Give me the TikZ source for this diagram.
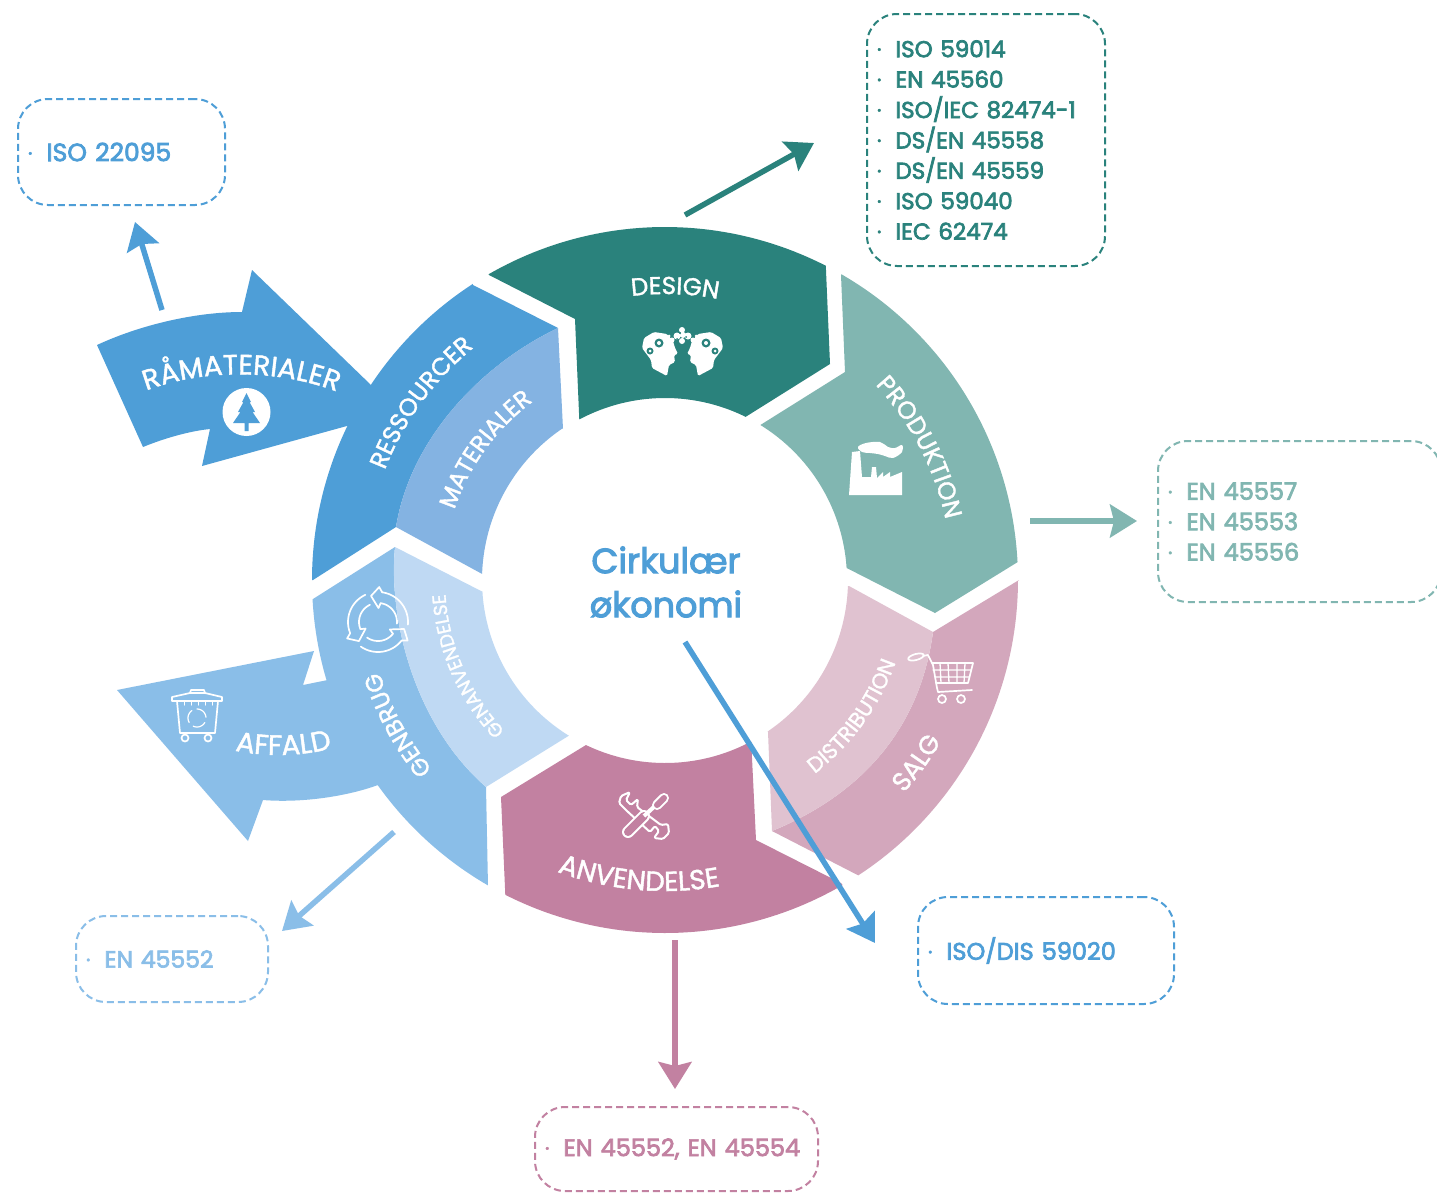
\documentclass[tikz,border=0pt]{standalone}
\usepackage{fontspec}
\setmainfont{Poppins}
\newfontfamily\medfont[FakeBold=3]{Poppins}
\newfontfamily\lblfont[FakeBold=1.5,LetterSpace=5]{Poppins}
\usetikzlibrary{arrows.meta,decorations.text}
\definecolor{cRes}{HTML}{4E9ED7}
\definecolor{cMat}{HTML}{84B3E2}
\definecolor{cDes}{HTML}{2A827C}
\definecolor{cPro}{HTML}{81B6B1}
\definecolor{cDis}{HTML}{E0C2D0}
\definecolor{cSal}{HTML}{D3A7BC}
\definecolor{cAnv}{HTML}{C281A1}
\definecolor{cGen}{HTML}{8ABEE8}
\definecolor{cGan}{HTML}{BFD9F3}
\newcommand\Arc[3]{--plot[domain=#1:#2,samples=50,variable=\t]({665+#3*cos(\t)},{580-#3*sin(\t)})}
\newcommand\ArcS[3]{plot[domain=#1:#2,samples=60,variable=\t]({665+#3*cos(\t)},{580-#3*sin(\t)})}
\newcommand\li[1]{\makebox[18.5pt][l]{\raisebox{4pt}{\fontsize{11}{11}\selectfont•}}#1}
\tikzset{
  curved/.style 2 args={decorate,decoration={text along path,text align=center,
     text={|\lblfont\fontsize{#1}{#1}\selectfont\color{white}|#2}}},
  dbox/.style={draw=#1,text=#1,dash pattern=on 7pt off 4pt,line width=2pt,rounded corners=30pt,
     anchor=north west,inner xsep=10pt,inner ysep=0pt,align=left,
     font=\medfont\fontsize{23}{30.4}\selectfont},
  conn/.style={draw=#1,line width=5.5pt,-{Stealth[length=27pt,width=33pt,inset=4pt]}},
  ico/.style={white,line width=1.7pt,line join=round,line cap=round}
}
\begin{document}
\begin{tikzpicture}[x=1pt,y=-1pt]
\useasboundingbox (0,0) rectangle (1437,1192);
\clip (0,0) rectangle (1437,1192);
\fill[white] (0,0) rectangle (1437,1192);
% --- ring sectors
\fill[cDes] (489,275) \Arc{120}{62.9}{353} -- (830,364) \Arc{63.7}{118.1}{182} -- (575,319) -- cycle;
\fill[cPro] (841,275) \Arc{60}{2.9}{353} -- (935,613) \Arc{3.8}{58.4}{182} -- (845,372) -- cycle;
\fill[cSal] (1019,580) \Arc{0}{-56.8}{353} -- (772,831) .. controls (860,795) and (920,730) .. (933,632) -- cycle;
\fill[cDis] (849,586) -- (933,632) .. controls (920,730) and (860,795) .. (772,831) -- (768,732) \Arc{-55.9}{-1.9}{183} -- cycle;
\fill[cAnv] (841,883) \Arc{-59.8}{-116.9}{353} -- (501,797) -- (586,745) \Arc{-115.6}{-61.9}{183} -- (756,840) -- cycle;
% Genbrug with Affald arrow
\fill[cGen] (395,547) -- (313,599) \Arc{183.1}{196.5}{353} -- (303,685) -- (314,651) -- (117,690) -- (248,841) -- (263,800)
  .. controls (300,803) and (345,797) .. (378,785) \Arc{215.5}{239.9}{353} -- (486,787)
  .. controls (415,725) and (388,620) .. (395,547) -- cycle;
\fill[cGan] (395,547) -- (483,592) \Arc{183.8}{238.3}{183} -- (486,787) .. controls (415,725) and (388,620) .. (395,547) -- cycle;
% Ressourcer with Råmaterialer arrow
\fill[cRes] (473,285) -- (558,328) .. controls (480,365) and (410,440) .. (396,527) -- (313,580) \Arc{180}{154.1}{353}
  -- (202,466) -- (210,429) .. controls (190,431) and (165,438) .. (143,447) -- (97,345)
  .. controls (140,325) and (195,312) .. (242,312) -- (252,270) -- (371,385) \Arc{146.4}{123}{353} -- cycle;
\fill[cMat] (558,328) -- (563,429) \Arc{124}{178.1}{183} -- (396,527) .. controls (410,440) and (480,365) .. (558,328) -- cycle;
% --- curved labels
\path[curved={24.5}{RESSOURCER}] \ArcS{170}{118}{301};
\path[curved={24}{MATERIALER}] \ArcS{172}{116}{222};
\path[curved={24.5}{DESIGN}] \ArcS{115}{61}{286};
\path[curved={24.7}{PRODUKTION}] \ArcS{56}{-1}{287};
\path[curved={26}{SALG}] \ArcS{-55}{-17}{320};
\path[curved={21.5}{DISTRIBUTION}] \ArcS{-67}{-5}{245};
\path[curved={27.5}{ANVENDELSE}] \ArcS{-122}{-68}{311};
\path[curved={24}{GENBRUG}] \ArcS{235}{182}{300};
\path[curved={19}{GENANVENDELSE}] \ArcS{238}{169}{220};
\path[curved={28}{AFFALD}] (220,747) .. controls (260,758) and (305,758) .. (347,744);
\path[curved={28}{RÅMATERIALER}] (116,405) .. controls (185,364) and (295,364) .. (367,406);
% --- centre
\node[text=cRes,font=\medfont\fontsize{35}{44}\selectfont,align=center] (center) at (666,582) {Cirkulær\\økonomi};
% --- tree icon
\fill[white] (246.5,412) circle (24);
\fill[cRes] (246.5,393) -- (251,402) -- (249.5,402) -- (255,412) -- (252.5,412) -- (260,423) -- (248.5,423) -- (248.5,431) -- (244.5,431) -- (244.5,423) -- (233,423) -- (240.5,412) -- (238,412) -- (243.5,402) -- (242,402) -- cycle;
% --- heads icon
\foreach \s/\o in {1/0,-1/1365}{
  \begin{scope}[xshift=\o pt,xscale=\s]
  \fill[white,rounded corners=1.5pt] (642,348) -- (644,338) -- (654,332) -- (667,334) -- (673,341) -- (675,348) -- (678,354) -- (674,355) -- (675,362) -- (669,365) -- (667,376) -- (652,368) -- (651,360) -- cycle;
  \fill[cDes] (650,351) circle (3.5) (659,343) circle (4.5);
  \fill[white] (650,351) circle (1.5) (659,343) circle (2);
  \end{scope}
}
\fill[white] (682,330) circle (3) (677,336) circle (3.5) (688,336) circle (3.5) (682,341) circle (3) (672,340) circle (2.5) (693,340) circle (2.5) (669,336) circle (1.5) (696,336) circle (1.5) (683,335) circle (3);
\fill[cDes] (680,333) circle (1) (686,337) circle (1) (677,339) circle (1) (688,342) circle (.8);
% --- factory icon
\fill[white] (849,495) -- (852,452) -- (860,451) -- (862,477) -- (871,477) -- (872,467) -- (876,467) -- (877,478) -- (883,472) -- (883,477) -- (890,472) -- (890,477) -- (902,472) -- (902,495) -- cycle;
\fill[white] plot[smooth cycle,tension=.6] coordinates {(858,447) (866,443) (880,442) (888,447) (895,448) (902,445) (902,452) (893,458) (885,456) (878,454) (870,453) (862,452)};
% --- cart icon
\draw[ico] (916,657) ellipse [x radius=8,y radius=3,rotate=15];
\draw[ico] (923,656) -- (928,655) -- (933,665) -- (937,688) -- (938,692) -- (972,690);
\draw[ico] (932,663) -- (973,663) -- (968,683) -- (936,683);
\draw[ico,line width=1.3pt] (933,670) -- (971,670) (935,677) -- (969,677) (940,663) -- (941,683) (948,663) -- (949,683) (957,663) -- (957,683) (965,663) -- (964,683);
\draw[ico] (942,699) circle (4) (961,699) circle (4);
% --- tools icon
\draw[ico,line width=2pt,rounded corners=1.5pt] (619,803) -- (621,796) -- (630,792) -- (626,800) -- (631,805) -- (638,799) -- (637,807) -- (661,825) -- (668,824) -- (669,833) -- (663,839) -- (654,838) -- (659,831) -- (655,826) -- (650,832) -- (627,811) -- cycle;
\draw[white,line width=12pt,line cap=round] (628,832) -- (644,816);
\draw[cAnv,line width=8pt,line cap=round] (628,832) -- (644,816);
\draw[white,line width=4pt] (644,816) -- (656,805);
\draw[white,line width=10pt,line cap=round] (657,805) -- (664,798);
\draw[cAnv,line width=6pt,line cap=round] (657,805) -- (664,798);
% --- recycle icon
\foreach \a in {100,-20,220}{
  \begin{scope}[shift={(378,622)}]
  \draw[ico] plot[domain=\a-18:\a-105,samples=20,variable=\t]({30*cos(\t)},{-30*sin(\t)});
  \draw[ico] plot[domain=\a-18:\a-105,samples=20,variable=\t]({19*cos(\t)},{-19*sin(\t)});
  \draw[ico] ({19*cos(\a-18)},{-19*sin(\a-18)}) -- ({14*cos(\a-12)},{-14*sin(\a-12)}) -- ({27*cos(\a+5)},{-27*sin(\a+5)}) -- ({35*cos(\a-12)},{-35*sin(\a-12)}) -- ({30*cos(\a-18)},{-30*sin(\a-18)});
  \end{scope}
}
% --- bin icon
\draw[ico] (172,701) -- (172,697) -- (190,693) -- (205,693) -- (222,697) -- (222,701) -- cycle;
\draw[ico] (190,693) -- (191,690) -- (204,690) -- (205,693);
\draw[ico] (177,701) -- (180,733) -- (215,733) -- (218,701);
\draw[ico,line width=1pt] (184,701) -- (184,705) (191,701) -- (191,705) (198,701) -- (198,705) (205,701) -- (205,705) (212,701) -- (212,705);
\draw[ico] (185,738) circle (3.5) (208,738) circle (3.5);
\foreach \a in {90,210,330}{
  \draw[ico,line width=1.2pt] plot[domain=\a:\a-85,samples=12,variable=\t]({197+9*cos(\t)},{718-9*sin(\t)});
}
% --- standards boxes
\node[dbox=cRes,minimum height=106pt,text width=187pt,font=\medfont\fontsize{25}{30}\selectfont] (b1) at (17,98) {\li{ISO 22095}};
\node[dbox=cDes,minimum height=252pt,text width=218pt] (b2) at (866,13) {\li{ISO 59014}\\\li{EN 45560}\\\li{ISO/IEC 82474-1}\\\li{DS/EN 45558}\\\li{DS/EN 45559}\\\li{ISO 59040}\\\li{IEC 62474}};
\node[dbox=cPro,minimum height=161pt,text width=263pt,font=\medfont\fontsize{24}{30.4}\selectfont] (b3) at (1157,440) {\li{EN 45557}\\\li{EN 45553}\\\li{EN 45556}};
\node[dbox=cGen,minimum height=86pt,text width=172pt,font=\medfont\fontsize{23.5}{30}\selectfont] (b4) at (75,915) {\li{EN 45552}};
\node[dbox=cAnv,minimum height=84pt,text width=263pt,font=\medfont\fontsize{24}{30}\selectfont] (b5) at (534,1106) {\li{EN 45552, EN 45554}};
\node[dbox=cRes,minimum height=107pt,text width=236pt,font=\medfont\fontsize{24}{30}\selectfont] (b6) at (917,896) {\li{ISO/DIS 59020}};
% --- arrows
\coordinate (a1s) at (162,310); \coordinate (a1e) at (135,222);
\coordinate (a2s) at (685,215); \coordinate (a2e) at (814,143);
\coordinate (a3s) at (1030,521); \coordinate (a3e) at (1137,521);
\coordinate (a4s) at (675,940); \coordinate (a4e) at (675,1089);
\coordinate (a5s) at (685,642); \coordinate (a5e) at (875,943);
\coordinate (a6s) at (394,832); \coordinate (a6e) at (282,931);
\draw[conn=cRes] (a1s) -- (a1e);
\draw[conn=cDes] (a2s) -- (a2e);
\draw[conn=cPro] (a3s) -- (a3e);
\draw[conn=cAnv] (a4s) -- (a4e);
\draw[conn=cRes] (a5s) -- (a5e);
\draw[conn=cGen] (a6s) -- (a6e);
\end{tikzpicture}
\end{document}
